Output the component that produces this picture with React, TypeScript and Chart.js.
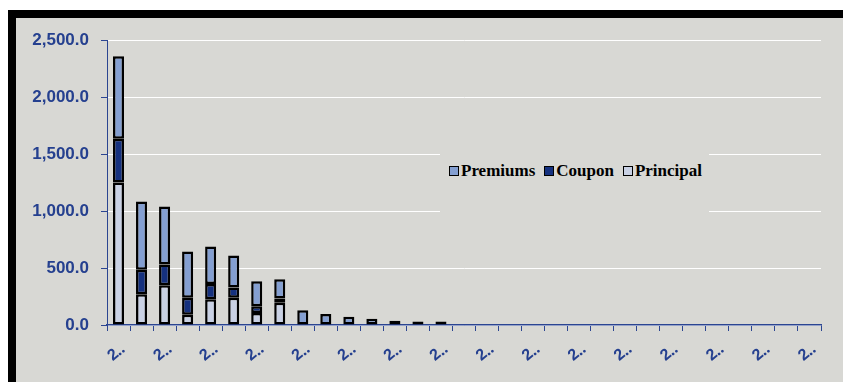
import React, { useEffect, useRef } from "react";
import { Chart, registerables } from "chart.js";

Chart.register(...registerables);

const categories: string[] = Array.from({ length: 31 }, () => "2\u2025");
const premiums: (number | null)[] = [725, 600, 510, 405, 330, 280, 220, 169, 130, 96, 73, 55, 38, 30, 30];
const coupon: (number | null)[] = [385, 215, 180, 150, 135, 90, 60, 38, null, null, null, null, null, null, null];
const principal: (number | null)[] = [1250, 270, 350, 90, 225, 240, 105, 195, null, null, null, null, null, null, null];
const yTicks: number[] = [0, 500, 1000, 1500, 2000, 2500];

const COLORS = {
  premiums: "#849fd1",
  coupon: "#15317f",
  principal: "#c9d1e4",
  bg: "#d8d8d4",
  axis: "#2b4591",
  text: "#25408f",
};

const legendItems = [
  { label: "Premiums", color: COLORS.premiums },
  { label: "Coupon", color: COLORS.coupon },
  { label: "Principal", color: COLORS.principal },
];

export default function App() {
  const ref = useRef<HTMLCanvasElement>(null);

  useEffect(() => {
    if (!ref.current) return;
    const mk = (label: string, data: (number | null)[], color: string) => ({
      label,
      data,
      backgroundColor: color,
      borderColor: "#000000",
      borderWidth: 2.5,
      borderSkipped: false as const,
      barPercentage: 0.48,
      categoryPercentage: 1,
      stack: "s",
    });
    const chart = new Chart(ref.current, {
      type: "bar",
      data: {
        labels: categories,
        datasets: [
          mk("Principal", principal, COLORS.principal),
          mk("Coupon", coupon, COLORS.coupon),
          mk("Premiums", premiums, COLORS.premiums),
        ],
      },
      options: {
        responsive: false,
        animation: false,
        layout: { padding: { left: 0, right: 22, top: 21, bottom: 0 } },
        plugins: { legend: { display: false }, tooltip: { enabled: false } },
        scales: {
          x: {
            stacked: true,
            offset: true,
            grid: {
              display: true,
              drawOnChartArea: false,
              drawTicks: true,
              tickLength: 6,
              tickColor: COLORS.axis,
              offset: true,
            },
            border: { display: true, color: COLORS.axis, width: 1.5 },
            ticks: {
              autoSkip: false,
              minRotation: 40,
              maxRotation: 40,
              padding: 8,
              labelOffset: 5,
              color: COLORS.text,
              font: { family: "'Liberation Sans', Arial, sans-serif", size: 16, weight: "bold" },
              callback: (_v: any, i: number) => (i % 2 === 0 ? categories[i] : ""),
            },
            afterFit: (s: any) => {
              s.height = 57;
            },
          },
          y: {
            stacked: true,
            min: 0,
            max: 2500,
            afterBuildTicks: (s: any) => {
              s.ticks = yTicks.map((v) => ({ value: v }));
            },
            grid: {
              color: "#ffffff",
              lineWidth: 1,
              drawTicks: true,
              tickLength: 6,
              tickColor: COLORS.axis,
            },
            border: { display: true, color: COLORS.axis, width: 1 },
            ticks: {
              padding: 12,
              color: COLORS.text,
              font: { family: "'Liberation Sans', Arial, sans-serif", size: 17, weight: "bold" },
              callback: (v: any) =>
                Number(v).toLocaleString("en-US", { minimumFractionDigits: 1, maximumFractionDigits: 1 }),
            },
            afterFit: (s: any) => {
              s.width = 91;
            },
          },
        },
      },
    });
    return () => chart.destroy();
  }, []);

  return (
    <div
      style={{
        position: "fixed",
        top: 10,
        left: 8,
        right: 0,
        bottom: 0,
        borderTop: "8px solid #000",
        borderLeft: "8px solid #000",
        background: COLORS.bg,
        overflow: "hidden",
      }}
    >
      <div style={{ position: "relative", width: 827, height: 364 }}>
        <canvas ref={ref} width={827} height={364} style={{ display: "block" }} />
        <div
          style={{
            position: "absolute",
            left: 424,
            top: 120,
            width: 269,
            height: 100,
            background: COLORS.bg,
          }}
        >
          <div
            style={{
              position: "absolute",
              left: 9,
              top: 143 - 120,
              display: "flex",
              alignItems: "center",
              fontFamily: "'Liberation Serif', 'Times New Roman', serif",
              fontWeight: "bold",
              fontSize: 17,
              color: "#000",
              whiteSpace: "nowrap",
              lineHeight: "20px",
            }}
          >
            {legendItems.map((it, i) => (
              <div key={it.label} style={{ display: "flex", alignItems: "center", marginLeft: i === 0 ? 0 : 9 }}>
                <span
                  style={{
                    display: "inline-block",
                    width: 8,
                    height: 8,
                    border: "1px solid #000",
                    background: it.color,
                    marginRight: 2,
                  }}
                />
                <span>{it.label}</span>
              </div>
            ))}
          </div>
        </div>
      </div>
    </div>
  );
}
